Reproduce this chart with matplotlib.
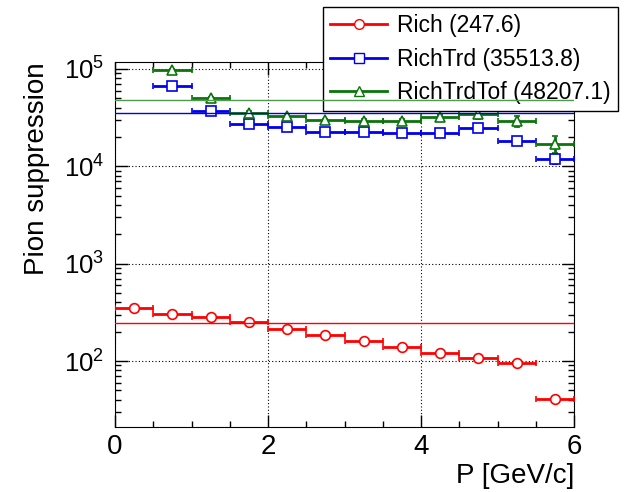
import numpy as np
import matplotlib
matplotlib.use("Agg")
import matplotlib.pyplot as plt
from matplotlib.lines import Line2D

plt.rcParams['font.family'] = ['Liberation Sans', 'DejaVu Sans']
plt.rcParams['mathtext.default'] = 'regular'

# bin centres (GeV/c), half bin width 0.25
p_rich = [0.25, 0.75, 1.25, 1.75, 2.25, 2.75, 3.25, 3.75, 4.25, 4.75, 5.25, 5.75]
rich = [349, 307, 286, 252, 215, 187, 161, 139, 122, 107, 95, 41]
rich_err = [6, 5, 5, 4, 3, 3, 3, 2, 2, 2, 2, 1]

p_trd = [0.75, 1.25, 1.75, 2.25, 2.75, 3.25, 3.75, 4.25, 4.75, 5.25, 5.75]
richtrd = [67300, 36900, 27100, 25100, 22600, 22300, 21900, 21800, 25000, 18200, 12000]
richtrd_err = [1500, 1000, 900, 800, 800, 800, 900, 1000, 2500, 1600, 1500]

p_tof = [0.75, 1.25, 1.75, 2.25, 2.75, 3.25, 3.75, 4.25, 4.75, 5.25, 5.75]
richtrdtof = [98000, 50600, 35400, 32800, 29800, 29300, 29300, 32200, 34400, 29100, 17100]
richtrdtof_err = [2500, 1500, 1200, 1000, 1000, 1000, 1200, 1500, 3500, 4000, 3500]

labels = ['Rich (247.6)', 'RichTrd (35513.8)', 'RichTrdTof (48207.1)']
averages = [247.6, 35513.8, 48207.1]

colors = ['#ff0000', '#0000ee', '#0b740b']
line_colors = ['#ff0000', '#0000ee', '#4f9a4f']
markers = ['o', 's', '^']

fig = plt.figure(figsize=(6.33, 4.92), dpi=100)
ax = fig.add_axes([115 / 633, 1 - 427 / 492, 459 / 633, 365 / 492])

series = [(p_rich, rich, rich_err), (p_trd, richtrd, richtrd_err), (p_tof, richtrdtof, richtrdtof_err)]
for (x, y, e), c, m in zip(series, colors, markers):
    ax.errorbar(x, y, xerr=0.25, yerr=e, fmt=m, color=c, mfc='white', mec=c,
                ms=7, mew=1.2, elinewidth=2, capsize=2.5, capthick=2, zorder=3)

for avg, c in zip(averages, line_colors):
    ax.axhline(avg, color=c, lw=1, zorder=6)

ax.set_yscale('log')
ax.set_xlim(0, 6)
ax.set_ylim(21, 118000)
ax.set_xticks([0, 2, 4, 6])
ax.set_xticks(np.arange(0, 6.01, 0.5), minor=True)
ax.grid(True, which='major', ls=(0, (1, 2)), color='black', lw=0.8)
ax.tick_params(which='both', direction='in', top=True, right=True)
ax.tick_params(which='major', length=9, width=1)
ax.tick_params(which='minor', length=4.5, width=1)
ax.tick_params(axis='x', labelsize=20, pad=5)
ax.tick_params(axis='y', labelsize=18.5, pad=8)

ax.set_xlabel('P [GeV/c]', fontsize=20, loc='right', labelpad=2)
ax.set_ylabel('Pion suppression', fontsize=20, loc='top', labelpad=10)

handles = [Line2D([], [], color=c, marker=m, mfc='white', mec=c, ms=7, lw=2)
           for c, m in zip(colors, markers)]
leg = ax.legend(handles, labels, loc='upper left', bbox_to_anchor=(323 / 633, 1 - 7 / 492),
                bbox_transform=fig.transFigure, fontsize=16.5, frameon=True, fancybox=False,
                edgecolor='black', framealpha=1, handlelength=2.5, handletextpad=0.45,
                borderaxespad=0, labelspacing=0.47, borderpad=0.3)
leg.get_frame().set_linewidth(1)
leg.set_zorder(5)

fig.savefig('out.png', dpi=100)
